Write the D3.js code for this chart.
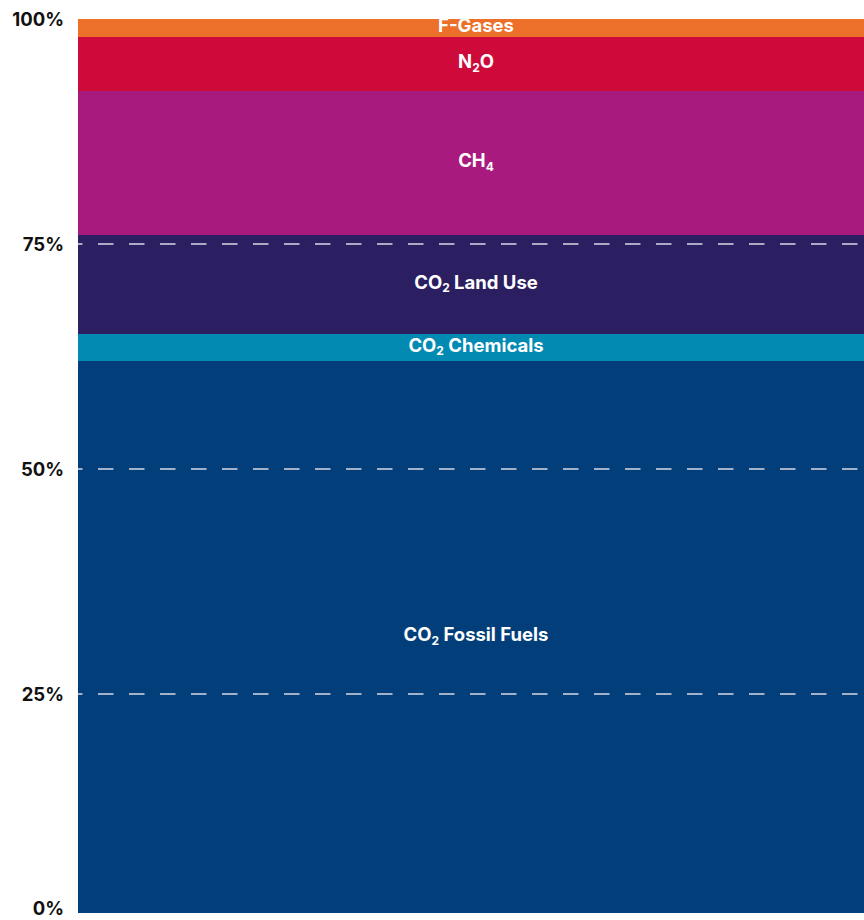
<!DOCTYPE html>
<html lang="en">
  <head>
    <meta charset="UTF-8" />
    <title>Greenhouse gas share</title>
    <style>
      html, body { margin: 0; padding: 0; background: #fff; }
      svg { display: block; font-family: Inter, "Noto Sans", sans-serif; }
    </style>
  </head>
  <body>
    <div id="chart"></div>
    <script src="https://d3js.org/d3.v7.min.js"></script>
    <script>
      // stacked shares, bottom to top
      const gases = ["CO2 Fossil Fuels", "CO2 Chemicals", "CO2 Land Use", "CH4", "N2O", "F-Gases"];
      const shares = [62, 3, 11, 16, 6, 2];
      const colors = ["#023f7a", "#028ab3", "#2b1f62", "#a91a7e", "#cd0a3a", "#ec6f2a"];
      const tickValues = [0, 25, 50, 75, 100];

      const width = 864, height = 920;
      const margin = { left: 78, right: 0, top: 19, bottom: 1 };
      const plotBottom = 913; // bar is cut at the bottom of the frame

      const svg = d3.select("#chart").append("svg")
        .attr("width", width).attr("height", height);

      const y = d3.scaleLinear().domain([0, 100]).range([height - margin.bottom, margin.top]);
      const x0 = margin.left, x1 = width - margin.right;

      svg.append("clipPath").attr("id", "plot")
        .append("rect").attr("x", x0).attr("y", 0).attr("width", x1 - x0).attr("height", plotBottom);

      const stacked = [];
      let acc = 0;
      shares.forEach((v, i) => {
        stacked.push({ name: gases[i], lo: acc, hi: acc + v, color: colors[i] });
        acc += v;
      });

      const g = svg.append("g").attr("clip-path", "url(#plot)");
      g.selectAll("rect.seg").data(stacked).enter().append("rect")
        .attr("class", "seg")
        .attr("x", x0).attr("width", x1 - x0)
        .attr("y", d => y(d.hi))
        .attr("height", d => y(d.lo) - y(d.hi))
        .attr("fill", d => d.color);

      // dashed gridlines
      g.selectAll("line.grid").data(tickValues.filter(t => t > 0 && t < 100)).enter().append("line")
        .attr("class", "grid")
        .attr("x1", x0).attr("x2", x1)
        .attr("y1", d => y(d)).attr("y2", d => y(d))
        .attr("stroke", "#d8d9e6").attr("stroke-width", 1.6)
        .attr("stroke-dasharray", "15.5,15.5").attr("stroke-dashoffset", 11);

      // y tick labels (kept inside the frame)
      svg.selectAll("text.tick").data(tickValues).enter().append("text")
        .attr("class", "tick")
        .attr("x", 64)
        .attr("y", d => Math.min(Math.max(y(d), 17), 908))
        .attr("dy", "0.36em")
        .attr("text-anchor", "end")
        .attr("font-size", 18.5).attr("font-weight", 700).attr("fill", "#111")
        .text(d => d + "%");

      // segment labels, digits as subscripts
      const labels = svg.selectAll("text.seg-label").data(stacked).enter().append("text")
        .attr("class", "seg-label")
        .attr("x", (x0 + x1) / 2 + 5)
        .attr("y", d => (Math.min(y(d.lo), plotBottom) + y(d.hi)) / 2 - 2.5)
        .attr("dy", "0.36em")
        .attr("text-anchor", "middle")
        .attr("font-size", 18.5).attr("font-weight", 700).attr("fill", "#fff");

      labels.each(function (d) {
        const t = d3.select(this);
        let lowered = false;
        d.name.split(/(\d)/).filter(s => s.length).forEach(part => {
          if (/^\d$/.test(part)) {
            t.append("tspan").attr("font-size", 12).attr("dy", 3.5).text(part);
            lowered = true;
          } else {
            const ts = t.append("tspan").text(part);
            if (lowered) { ts.attr("dy", -3.5); lowered = false; }
          }
        });
      });
    </script>
  </body>
</html>
